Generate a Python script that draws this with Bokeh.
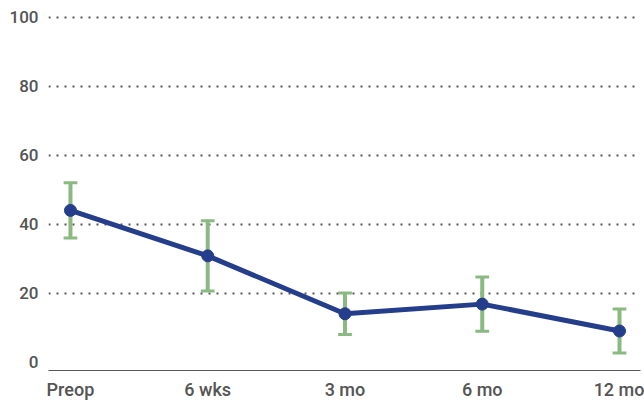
from bokeh.plotting import figure
from bokeh.models import Range1d, FixedTicker, ColumnDataSource
from bokeh.embed import file_html
from bokeh.resources import INLINE

categories = ["Preop", "6 wks", "3 mo", "6 mo", "12 mo"]
means = [44.0, 30.8, 14.0, 16.8, 9.0]
err = [8.0, 10.2, 6.0, 7.9, 6.4]
y_ticks = [0, 20, 40, 60, 80, 100]

xs = list(range(len(categories)))
upper = [m + e for m, e in zip(means, err)]
lower = [m - e for m, e in zip(means, err)]
cap_half = 0.05
src = ColumnDataSource(dict(x=xs, y=means, upper=upper, lower=lower,
                            xl=[x - cap_half for x in xs], xr=[x + cap_half for x in xs]))

p = figure(width=644, height=402, output_backend="svg", toolbar_location=None,
           x_range=Range1d(-0.16, 4.153), y_range=Range1d(-2.46, 104.9),
           min_border_left=48, min_border_right=4, min_border_top=0, min_border_bottom=0)
p.outline_line_color = None
p.background_fill_color = "white"
p.border_fill_color = "white"

# grid
p.xgrid.grid_line_color = None
p.ygrid.ticker = FixedTicker(ticks=[t for t in y_ticks if t > 0])
p.ygrid.grid_line_color = "#555555"
p.ygrid.grid_line_dash = "2 6"
p.ygrid.grid_line_width = 2

LABEL_FONT = "Roboto Medium, Roboto"

# axes
p.yaxis.ticker = FixedTicker(ticks=y_ticks)
p.yaxis.axis_line_color = None
p.yaxis.major_tick_line_color = None
p.yaxis.minor_tick_line_color = None
p.yaxis.major_tick_out = 0
p.yaxis.minor_tick_out = 0
p.yaxis.major_label_standoff = 10
p.yaxis.major_label_text_font = LABEL_FONT
p.yaxis.major_label_text_font_size = "17px"
p.yaxis.major_label_text_color = "#555555"

p.xaxis.ticker = FixedTicker(ticks=xs)
p.xaxis.major_label_overrides = {i: c for i, c in enumerate(categories)}
p.xaxis.axis_line_color = "#555555"
p.xaxis.axis_line_width = 1
p.xaxis.major_tick_line_color = None
p.xaxis.minor_tick_line_color = None
p.xaxis.major_tick_out = 0
p.xaxis.minor_tick_out = 0
p.xaxis.major_label_standoff = 8
p.xaxis.major_label_text_font = LABEL_FONT
p.xaxis.major_label_text_font_size = "18px"
p.xaxis.major_label_text_color = "#555555"

# error bars (drawn beneath the line)
green = "#8bb982"
p.segment(x0="x", y0="lower", x1="x", y1="upper", source=src, line_color=green, line_width=4)
p.segment(x0="xl", y0="upper", x1="xr", y1="upper", source=src, line_color=green, line_width=3)
p.segment(x0="xl", y0="lower", x1="xr", y1="lower", source=src, line_color=green, line_width=3)

p.line("x", "y", source=src, line_color="#253e8c", line_width=5)
p.scatter("x", "y", source=src, size=12, fill_color="#253e8c", line_color="#253e8c")

open("out.html", "w").write(file_html(p, INLINE))
